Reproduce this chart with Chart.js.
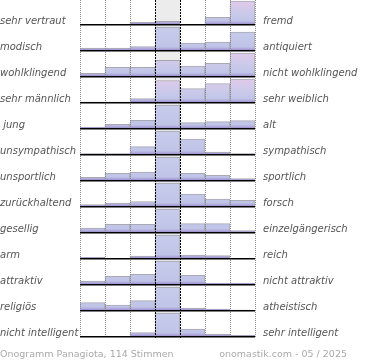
<!DOCTYPE html>
<html>
<head>
<meta charset="utf-8">
<script src="https://cdn.jsdelivr.net/npm/chart.js@4.4.1/dist/chart.umd.min.js"></script>
<style>
  html, body { margin: 0; padding: 0; background: #fff; }
  #wrap { width: 370px; height: 360px; position: relative; }
</style>
</head>
<body>
<div id="wrap"><canvas id="chart" width="370" height="360"></canvas></div>
<script>
// 7-step scale between the two adjectives
var steps = ['-3', '-2', '-1', '0', '1', '2', '3'];

var leftLabels = ['sehr vertraut', 'modisch', 'wohlklingend', 'sehr männlich', ' jung',
    'unsympathisch', 'unsportlich', 'zurückhaltend', 'gesellig', 'arm', 'attraktiv',
    'religiös', 'nicht intelligent'];
var rightLabels = ['fremd', 'antiquiert', 'nicht wohlklingend', 'sehr weiblich', 'alt',
    'sympathisch', 'sportlich', 'forsch', 'einzelgängerisch', 'reich', 'nicht attraktiv',
    'atheistisch', 'sehr intelligent'];

// bar heights per row (full bar = 24)
var vertraut     = [0.7, 0.7, 2.7, 3.7, 0, 7.7, 24];
var modisch      = [3, 3, 4.3, 24, 8, 9, 19];
var klang        = [3.7, 9.7, 9.7, 16.7, 11, 13.7, 24];
var maennlich    = [1, 1, 4.3, 22.5, 14.3, 19.3, 24];
var jung         = [2, 4.7, 8.7, 24, 6.3, 7.3, 8.3];
var sympathisch  = [1.3, 1.3, 8.3, 24, 16, 3, 1.3];
var sportlich    = [3.7, 7.7, 9, 24, 7.7, 5.7, 2.3];
var zurueck      = [2.3, 4, 5.3, 24, 13, 8, 6.7];
var gesellig     = [5, 8.7, 8.7, 24, 9.3, 9.3, 2.3];
var arm          = [1.7, 0.7, 3, 24, 4, 3.3, 0];
var attraktiv    = [4, 8.7, 10.7, 24, 9.7, 2, 2];
var religioes    = [8.3, 6, 10.3, 24, 3, 2, 1];
var intelligent  = [0.7, 0.7, 4.3, 24, 8, 3, 1.7];

var rows = [vertraut, modisch, klang, maennlich, jung, sympathisch, sportlich,
    zurueck, gesellig, arm, attraktiv, religioes, intelligent];

var FULL = 24;
var pinkRows = [0, 2, 3];

function barFill(row) {
    var cache = null;
    return function (ctx) {
        var chart = ctx.chart;
        if (!chart.chartArea) return '#c4c9ea';
        var s = chart.scales['y' + row];
        var top = s.getPixelForValue(FULL), bot = s.getPixelForValue(0);
        if (cache && cache.top === top) return cache.g;
        var g = chart.ctx.createLinearGradient(0, top, 0, bot);
        if (pinkRows.indexOf(row) >= 0) {
            g.addColorStop(0, '#e2c9e9');
            g.addColorStop(0.45, '#cdcaea');
        } else {
            g.addColorStop(0, '#c7cceb');
        }
        g.addColorStop(0.82, '#c0c5e8');
        g.addColorStop(0.9, '#b0aadc');
        g.addColorStop(1, '#8c7ec2');
        cache = { top: top, g: g };
        return g;
    };
}

var scales = {
    x: {
        type: 'category',
        labels: steps,
        position: 'bottom',
        offset: true,
        grid: {
            offset: true,
            z: 1,
            drawTicks: false,
            lineWidth: 1,
            color: function (c) { return (c.index === 3 || c.index === 4) ? '#000' : '#8a8a8a'; }
        },
        border: {
            display: false,
            dash: function (c) { return (c.index === 3 || c.index === 4) ? [2, 1] : [1, 1]; }
        },
        ticks: { display: false }
    }
};

var datasets = [];
for (var i = 0; i < rows.length; i++) {
    scales['y' + i] = {
        type: 'linear',
        position: 'right',
        stack: 'rows',
        stackWeight: 1,
        min: -1,
        max: 25,
        afterBuildTicks: function (s) { s.ticks = [{ value: 0 }]; },
        grid: { z: 1, drawTicks: false, color: '#000', lineWidth: 1.5 },
        border: { display: false },
        ticks: { display: false }
    };
    datasets.push({
        data: rows[i],
        xAxisID: 'x',
        yAxisID: 'y' + i,
        grouped: false,
        barPercentage: 1,
        categoryPercentage: 1,
        backgroundColor: barFill(i),
        borderColor: 'rgba(140,140,155,0.75)',
        borderWidth: { top: 1, left: 1, right: 1, bottom: 0 },
        borderSkipped: 'start'
    });
}

var rowText = {
    id: 'rowText',
    beforeDatasetsDraw: function (chart) {
        var ctx = chart.ctx, a = chart.chartArea, x = chart.scales.x;
        var half = (x.getPixelForValue(1) - x.getPixelForValue(0)) / 2;
        var cx = x.getPixelForValue(3);
        ctx.save();
        ctx.fillStyle = '#ececec';
        ctx.fillRect(cx - half, a.top, half * 2, a.bottom - a.top);
        ctx.restore();
    },
    afterDraw: function (chart) {
        var ctx = chart.ctx, a = chart.chartArea;
        ctx.save();
        ctx.font = 'italic 10px "DejaVu Sans"';
        ctx.fillStyle = '#555';
        ctx.textBaseline = 'alphabetic';
        for (var r = 0; r < rows.length; r++) {
            var y = chart.scales['y' + r].getPixelForValue(0) - 1;
            ctx.textAlign = 'left';
            ctx.fillText(leftLabels[r], 0, y);
            ctx.fillText(rightLabels[r], a.right + 8, y);
        }
        ctx.font = '9.5px "DejaVu Sans"';
        ctx.fillStyle = '#aaa';
        ctx.textAlign = 'left';
        ctx.fillText('Onogramm Panagiota, 114 Stimmen', 0, 357);
        ctx.textAlign = 'right';
        ctx.fillText('onomastik.com - 05 / 2025', 347, 357);
        ctx.restore();
    }
};

new Chart(document.getElementById('chart'), {
    type: 'bar',
    data: { labels: steps, datasets: datasets },
    options: {
        responsive: false,
        animation: false,
        layout: { padding: { left: 80, right: 115, top: 0, bottom: 22 } },
        plugins: { legend: { display: false }, tooltip: { enabled: false } },
        scales: scales
    },
    plugins: [rowText]
});
</script>
</body>
</html>
